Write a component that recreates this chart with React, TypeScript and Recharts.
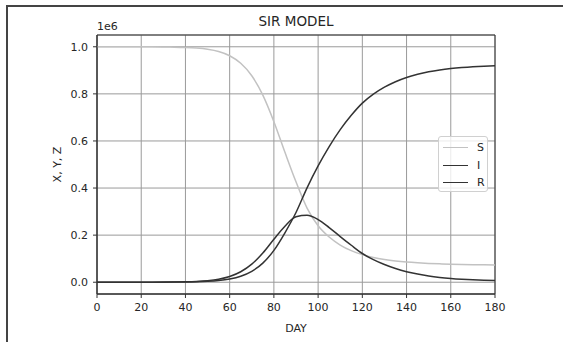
import React from "react"
import {
  CartesianGrid,
  Legend,
  Line,
  LineChart,
  ReferenceArea,
  XAxis,
  YAxis,
} from "recharts"

// days sampled every 5
const days = [
  0, 5, 10, 15, 20, 25, 30, 35, 40, 45, 50, 55, 60, 65, 70, 75, 80, 85, 90,
  95, 100, 105, 110, 115, 120, 125, 130, 135, 140, 145, 150, 155, 160, 165,
  170, 175, 180,
]

const susceptible = [
  999990, 999970, 999940, 999890, 999790, 999590, 999210, 998500, 997100,
  994500, 989500, 980000, 962000, 930000, 877100, 794700, 682000, 551800,
  426400, 315000, 240000, 192000, 158000, 134000, 117300, 105200, 96600, 90300,
  85700, 82400, 79900, 78100, 76700, 75600, 74700, 74000, 73500,
]

const infected = [
  10, 20, 40, 70, 140, 270, 520, 1000, 1900, 3600, 6800, 12900, 24300, 44400,
  76600, 124100, 182800, 238100, 278000, 284000, 266000, 232000, 194000,
  157000, 122000, 96000, 75000, 58000, 44500, 34500, 26500, 20500, 16000,
  12600, 10000, 8200, 7000,
]

const recovered = [
  0, 10, 20, 40, 70, 140, 270, 500, 1000, 1900, 3700, 7100, 13700, 25600,
  46300, 81200, 135200, 210100, 296000, 401000, 494000, 576000, 648000,
  709000, 760700, 798800, 828400, 851700, 869800, 883100, 893600, 901400,
  907300, 911800, 915300, 917800, 919500,
]

const seriesOrder = ["S", "I", "R"]
const xTicks = [0, 20, 40, 60, 80, 100, 120, 140, 160, 180]
const yTicks = [0, 200000, 400000, 600000, 800000, 1000000]

const data = days.map((day, i) => ({
  day,
  S: susceptible[i],
  I: infected[i],
  R: recovered[i],
}))

const FONT = "'DejaVu Sans', sans-serif"
const TEXT = "#262626"

function LegendBox({ payload }: { payload?: readonly any[] }) {
  const items = [...(payload ?? [])].sort(
    (a, b) => seriesOrder.indexOf(a.value) - seriesOrder.indexOf(b.value)
  )
  return (
    <div
      style={{
        width: 50,
        height: 56,
        boxSizing: "border-box",
        background: "rgba(255,255,255,0.8)",
        border: "1px solid #d0d0d0",
        borderRadius: 3,
        paddingTop: 2,
        fontFamily: FONT,
        fontSize: 11,
        color: TEXT,
      }}
    >
      {items.map((entry) => (
        <div
          key={entry.value}
          style={{ display: "flex", alignItems: "center", height: 17.5 }}
        >
          <div
            style={{
              width: 25,
              height: 0,
              borderTop: `1.5px solid ${entry.color}`,
              marginLeft: 4,
              marginRight: 9,
            }}
          />
          <span>{entry.value}</span>
        </div>
      ))}
    </div>
  )
}

export default function App() {
  return (
    <div
      style={{
        position: "absolute",
        left: 0,
        top: 0,
        width: 563,
        height: 342,
        background: "#fff",
        overflow: "hidden",
      }}
    >
      <div
        style={{
          position: "absolute",
          left: 6,
          top: 5,
          width: 600,
          height: 400,
          borderTop: "2px solid #444",
          borderLeft: "2px solid #444",
        }}
      />
      <div
        style={{
          position: "absolute",
          left: 97,
          width: 398,
          top: 13,
          textAlign: "center",
          fontFamily: FONT,
          fontSize: 13.5,
          color: TEXT,
        }}
      >
        SIR MODEL
      </div>
      <div
        style={{
          position: "absolute",
          left: 97,
          top: 20,
          fontFamily: FONT,
          fontSize: 11,
          color: TEXT,
        }}
      >
        1e6
      </div>
      <LineChart
        width={563}
        height={342}
        data={data}
        margin={{ top: 35, right: 68, bottom: 18, left: 0 }}
        style={{ position: "absolute", left: 0, top: 0 }}
      >
        <CartesianGrid stroke="#9a9a9a" strokeWidth={1} />
        <XAxis
          dataKey="day"
          type="number"
          domain={[0, 180]}
          ticks={xTicks}
          height={30}
          stroke="#333"
          tickSize={4}
          tick={{ fill: TEXT, fontSize: 11, fontFamily: FONT, dy: 3 }}
          label={{
            value: "DAY",
            position: "insideBottom",
            offset: -8,
            fill: TEXT,
            fontSize: 11,
            fontFamily: FONT,
          }}
        />
        <YAxis
          type="number"
          domain={[-50000, 1050000]}
          ticks={yTicks}
          width={97}
          stroke="#333"
          tickSize={4}
          tickFormatter={(v: number) => (v / 1e6).toFixed(1)}
          tick={{ fill: TEXT, fontSize: 11, fontFamily: FONT, dx: -3 }}
          label={{
            value: "X, Y, Z",
            angle: -90,
            position: "insideLeft",
            offset: 57,
            fill: TEXT,
            fontSize: 11,
            fontFamily: FONT,
            style: { textAnchor: "middle" },
          }}
        />
        <ReferenceArea
          x1={0}
          x2={180}
          y1={-50000}
          y2={1050000}
          fill="none"
          stroke="#333"
          strokeWidth={1}
          ifOverflow="visible"
        />
        <Line
          dataKey="S"
          name="S"
          type="monotone"
          stroke="#c2c2c2"
          strokeWidth={1.5}
          dot={false}
          isAnimationActive={false}
        />
        <Line
          dataKey="I"
          name="I"
          type="monotone"
          stroke="#333"
          strokeWidth={1.5}
          dot={false}
          isAnimationActive={false}
        />
        <Line
          dataKey="R"
          name="R"
          type="monotone"
          stroke="#333"
          strokeWidth={1.5}
          dot={false}
          isAnimationActive={false}
        />
        <Legend
          layout="vertical"
          verticalAlign="middle"
          align="center"
          wrapperStyle={{ left: 438, top: 136, width: 52 }}
          content={(props: any) => <LegendBox payload={props.payload} />}
        />
      </LineChart>
    </div>
  )
}
